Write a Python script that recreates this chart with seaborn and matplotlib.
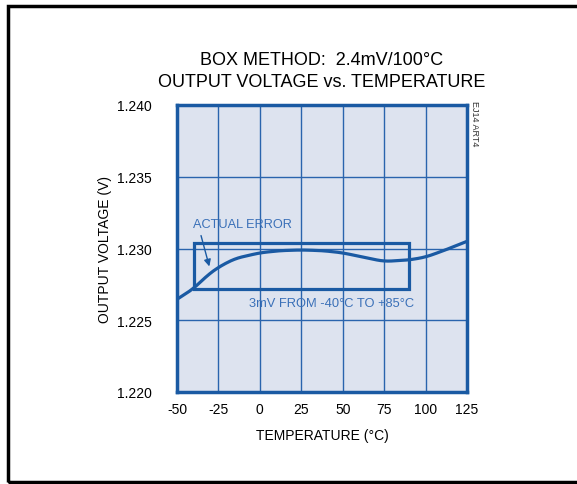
import numpy as np
import seaborn as sns
import matplotlib.pyplot as plt
from matplotlib.patches import Rectangle

# curve
temp_c = [-50, -40, -32, -25, -15, 0, 12, 25, 38, 50, 62, 75, 90, 100, 112, 125]
vout = [1.22646, 1.2272, 1.2281, 1.2287, 1.2293, 1.2297, 1.22985, 1.2299, 1.22985,
        1.2297, 1.2294, 1.2291, 1.2292, 1.2294, 1.2299, 1.2305]

# error box
box_t = [-40, 90]
box_v = [1.2272, 1.2304]

x_ticks = [-50, -25, 0, 25, 50, 75, 100, 125]
y_ticks = [1.220, 1.225, 1.230, 1.235, 1.240]

blue = '#1a5aa3'
grid_blue = '#2a64ad'
text_blue = '#3a70b8'

sns.set_theme(style='white')
plt.rcParams['font.family'] = ['Liberation Sans', 'DejaVu Sans']

fig = plt.figure(figsize=(5.77, 4.85), dpi=100)
ax = fig.add_axes([177 / 577, 1 - 393 / 485, 290 / 577, 287 / 485])

# outer frame, right edge runs off the picture
fig.patches.append(Rectangle((8 / 577, 2 / 485), 1.2, 1 - 9 / 485, transform=fig.transFigure,
                             fill=False, edgecolor='black', linewidth=2.5, clip_on=False))

ax.set_facecolor('#dde3ef')

# light smoothing of the read points
t = np.array(temp_c, dtype=float)
v = np.array(vout)
tt = np.linspace(-50, 125, 400)
vv = np.interp(tt, t, v)
k = 10
vs = np.convolve(np.pad(vv, k, mode='reflect', reflect_type='odd'),
                 np.ones(2 * k + 1) / (2 * k + 1), mode='same')[k:-k]
sns.lineplot(x=tt, y=vs, ax=ax, color=blue, linewidth=2.3, zorder=4)

ax.add_patch(Rectangle((box_t[0], box_v[0]), box_t[1] - box_t[0], box_v[1] - box_v[0],
                       fill=False, edgecolor=blue, linewidth=2.3, zorder=5))

ax.set_xlim(-50, 125)
ax.set_ylim(1.220, 1.240)
ax.set_xticks(x_ticks)
ax.set_yticks(y_ticks)
ax.set_xticklabels([str(x) for x in x_ticks])
ax.set_yticklabels([f'{y:.3f}' for y in y_ticks])
ax.grid(True, color=grid_blue, linewidth=1.0)
ax.set_axisbelow(True)
for s in ax.spines.values():
    s.set_visible(True)
    s.set_color(blue)
    s.set_linewidth(2.5)
ax.tick_params(axis='x', length=0, labelsize=10, colors='black', pad=7)
ax.tick_params(axis='y', length=0, labelsize=10, colors='black', pad=18)

ax.set_xlabel('TEMPERATURE (°C)', fontsize=10, labelpad=9, color='black')
ax.set_ylabel('OUTPUT VOLTAGE (V)', fontsize=10, labelpad=4, color='black')
ax.set_title('BOX METHOD:  2.4mV/100°C\nOUTPUT VOLTAGE vs. TEMPERATURE', fontsize=13,
             linespacing=1.35, pad=14, color='black')

ax.annotate('ACTUAL ERROR', xy=(-30.5, 1.2287), xytext=(-40.5, 1.2317),
            color=text_blue, fontsize=9.2, ha='left', va='center')
ax.annotate('', xy=(-30.5, 1.22875), xytext=(-35.5, 1.2309),
            arrowprops=dict(arrowstyle='-|>', color=blue, lw=1.0, shrinkA=0, shrinkB=0,
                            mutation_scale=10))
ax.text(43, 1.2262, '3mV FROM -40°C TO +85°C', color=text_blue, fontsize=9.3,
        ha='center', va='center')

fig.text(474 / 577, 1 - 124 / 485, 'EJ14 ART4', rotation=270, fontsize=6.5,
         ha='center', va='center', color='#333333')

fig.savefig('out.png', dpi=100)
